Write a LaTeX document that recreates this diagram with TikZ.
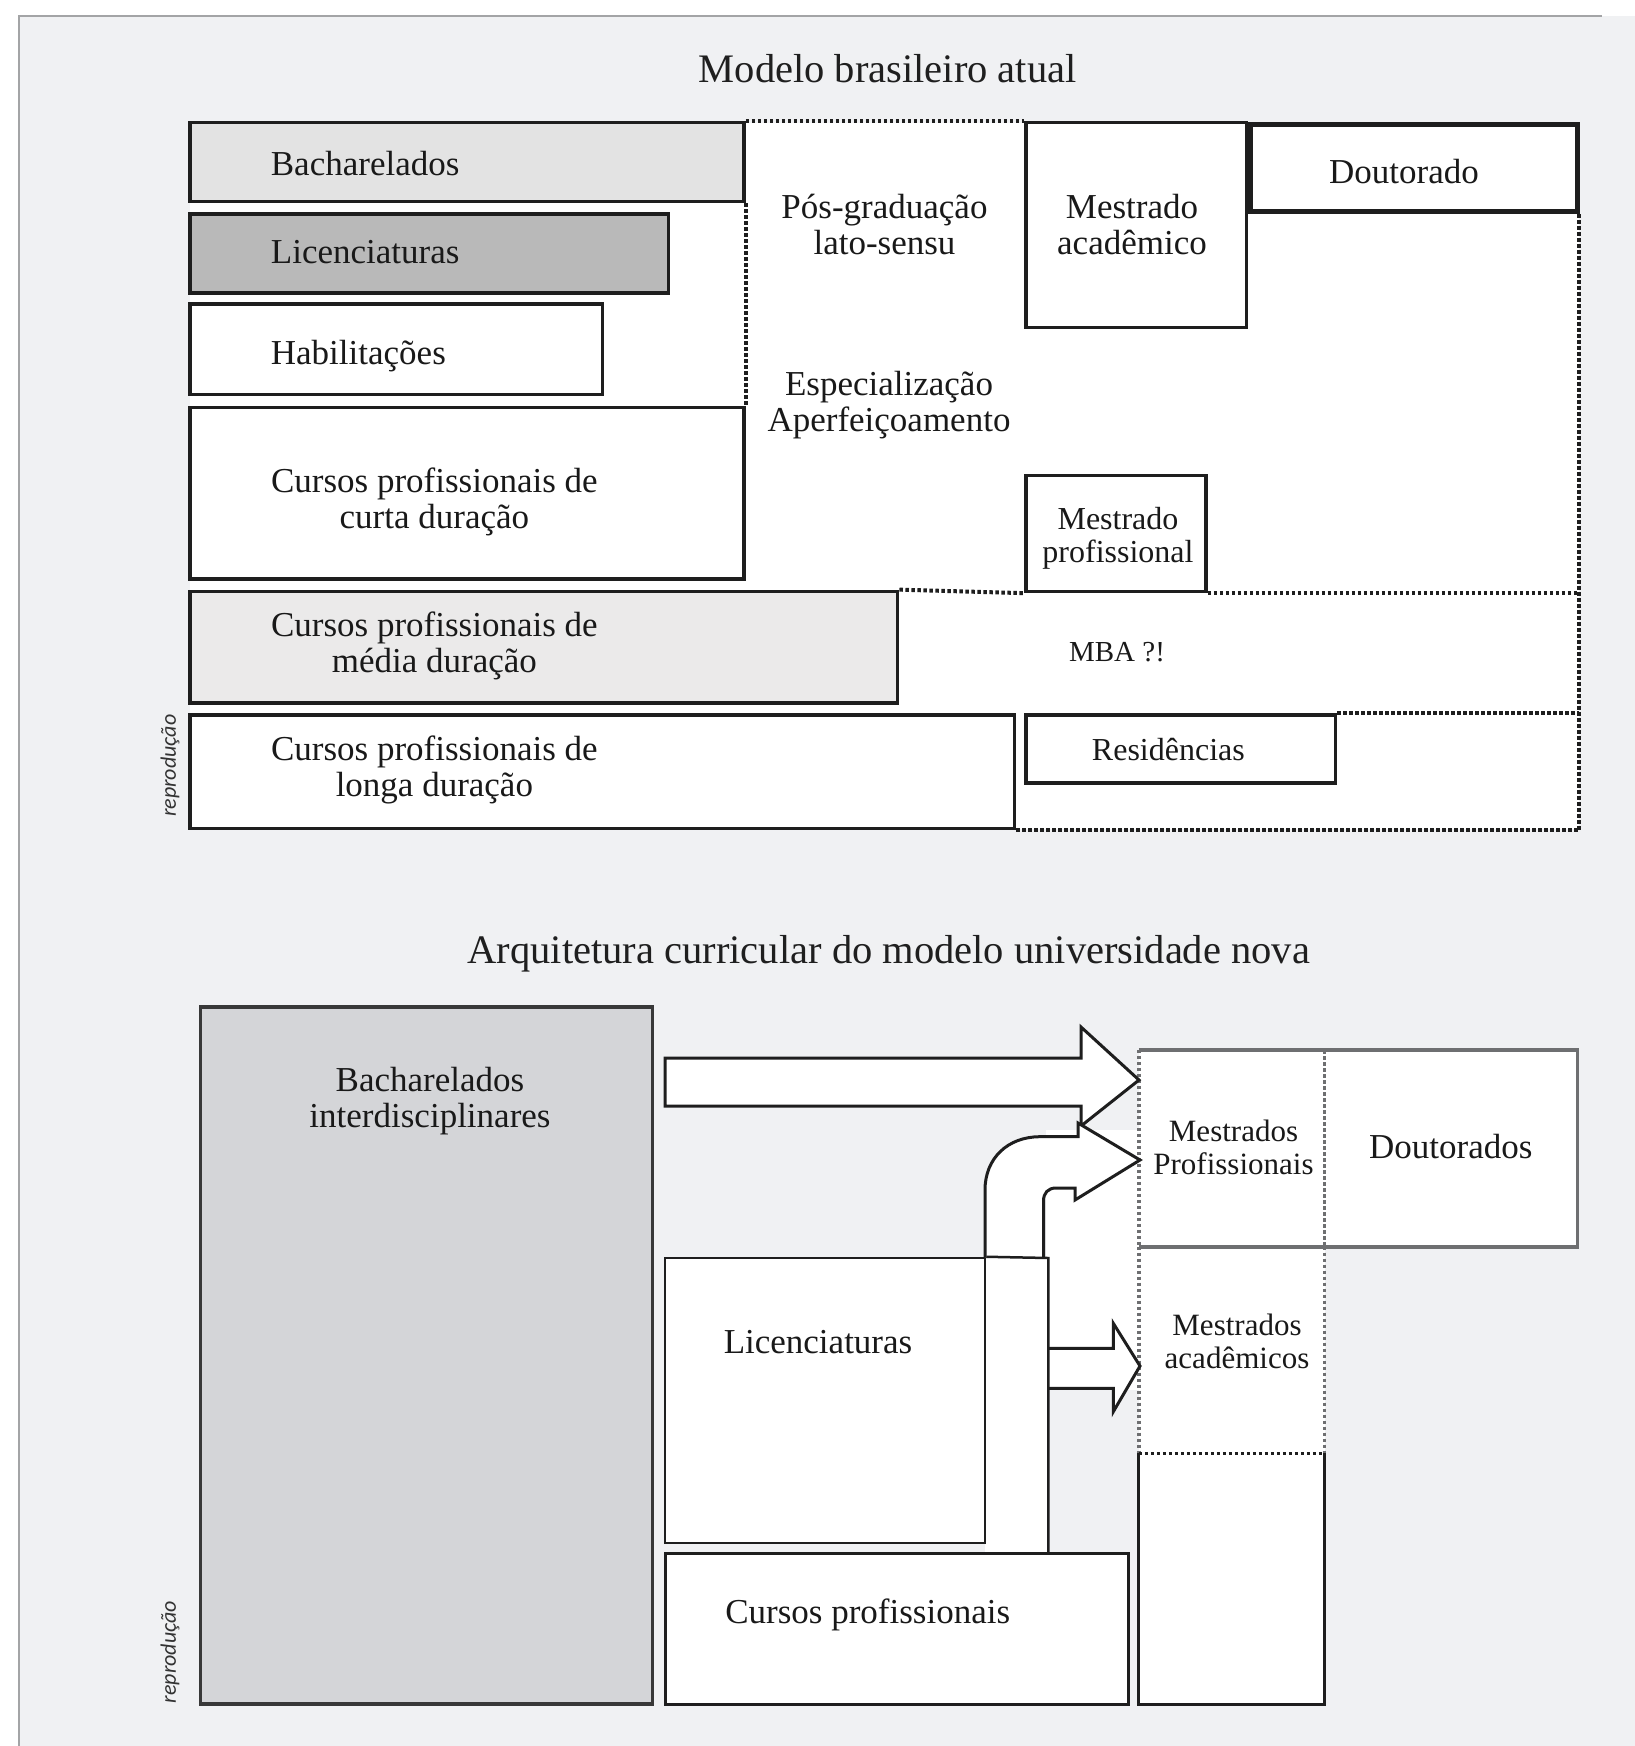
\documentclass[tikz,border=0pt]{standalone}
\usepackage{fontspec}
\setmainfont{Liberation Serif}
\newfontfamily\repfont{Carlito}
\usetikzlibrary{fit}
\definecolor{bgc}{HTML}{F0F1F3}
\definecolor{framec}{HTML}{A3A4A6}
\definecolor{bachfill}{HTML}{E3E3E3}
\definecolor{licfill}{HTML}{B9B9B9}
\definecolor{medfill}{HTML}{EBEAEA}
\definecolor{bifill}{HTML}{D4D5D8}
\definecolor{inkc}{HTML}{1E1E1E}
\definecolor{grayline}{HTML}{6E6F71}
\tikzset{
  ubox/.style={draw=inkc, line width=3.5pt, inner sep=0pt, fill=white},
  lbox/.style={draw=inkc, line width=3pt, inner sep=0pt, fill=white},
  dotl/.style={draw=inkc, line width=4pt, dash pattern=on 3.5pt off 2.5pt},
  gdot/.style={draw=grayline, line width=3.5pt, dash pattern=on 3.5pt off 2.5pt},
  gsolid/.style={draw=grayline, line width=3.5pt},
  lbl/.style={inner sep=0pt, text=black!90, font=\fontsize{35}{36}\selectfont, align=center},
  slbl/.style={lbl, font=\fontsize{32}{33}\selectfont},
  ttl/.style={inner sep=0pt, text=black!88, font=\fontsize{40.5}{42}\selectfont},
  rep/.style={inner sep=0pt, rotate=90, font=\repfont\itshape\fontsize{22}{24}\selectfont, text=black!80},
  blockarrow/.style={draw=inkc, line width=3pt, fill=white, line join=miter},
}
\begin{document}
\begin{tikzpicture}[x=1pt,y=-1pt]
\useasboundingbox (0,0) rectangle (1635,1746);
\fill[white] (0,0) rectangle (1635,1746);
\fill[bgc] (19,16) rectangle (1635,1746);
\draw[framec, line width=2.5pt] (19,1746) -- (19,16) -- (1602,16);

% ================= upper diagram =================
\node[ttl] (title1) at (887.7,69) {Modelo brasileiro atual};
\fill[white] (190,122.5) rectangle (1579.4,828.7);

% boxes
\node[ubox, fill=bachfill, fit={(190,122.5) (744,201.6)}] (bach) {};
\node[ubox, fill=licfill, fit={(190,213.8) (668.3,292.9)}] (lic) {};
\node[ubox, fit={(190,304) (602.6,394.3)}] (hab) {};
\node[ubox, fit={(190,407.6) (744,579.2)}] (curta) {};
\node[ubox, fill=medfill, fit={(190,591.4) (897.7,702.8)}] (media) {};
\node[ubox, fit={(190,715) (1014.7,828.7)}] (longa) {};
\node[ubox, fit={(1025.8,122.5) (1246.3,327.5)}] (macad) {};
\node[ubox, line width=5pt, fit={(1250.5,124) (1577.5,211.6)}] (dout) {};
\node[ubox, fit={(1025.8,475.6) (1206.2,591.4)}] (mprof) {};
\node[ubox, fit={(1025.8,715) (1335.4,783)}] (resid) {};
\coordinate (rx) at (1579.4,122.5);

% dotted outline of the post-graduation area
\draw[dotl] (bach.north east) -- (macad.north west);
\draw[dotl] (bach.south east) -- (curta.north east);
\draw[dotl] (dout.south east -| rx) -- (rx |- longa.south);
\draw[dotl] (media.north east) -- (mprof.south west);
\draw[dotl] (mprof.south east) -- (rx |- mprof.south);
\draw[dotl] (resid.north east) -- (rx |- resid.north);
\draw[dotl] (longa.south east) -- (rx |- longa.south);

% labels
\node[lbl, anchor=west] (tbach) at (270.7,163.7) {Bacharelados};
\node[lbl, anchor=west] (tlic) at (270.7,251.7) {Licenciaturas};
\node[lbl, anchor=west] (thab) at (270.7,356.4) {Habilitações};
\node[lbl] (tcurta) at (434.4,502) {Cursos profissionais de\\curta duração};
\node[lbl] (tmedia) at (434.4,645.5) {Cursos profissionais de\\média duração};
\node[lbl] (tlonga) at (434.4,769.5) {Cursos profissionais de\\longa duração};
\node[lbl] (tpos) at (884.5,224) {Pós-graduação\\lato-sensu};
\node[lbl] (tesp) at (889,405) {Especialização\\Aperfeiçoamento};
\node[lbl] (tmacad) at (1132,224.5) {Mestrado\\acadêmico};
\node[lbl] (tdout) at (1404,171.5) {Doutorado};
\node[slbl] (tmprof) at (1118,538) {Mestrado\\profissional};
\node[lbl, font=\fontsize{29}{30}\selectfont] (tmba) at (1117,651.6) {MBA ?!};
\node[slbl] (tresid) at (1168.4,749.6) {Residências};
\node[rep] (rep1) at (170,765.7) {reprodução};

% ================= lower diagram =================
\node[ttl] (title2) at (888.8,954) {Arquitetura curricular do modelo universidade nova};

\node[ubox, draw=black!78, fill=bifill, fit={(200.5,1006.9) (652.7,1704.1)}] (bi) {};
\node[lbl] (tbi) at (430,1101) {Bacharelados\\interdisciplinares};

% white areas round the arrows
\fill[white] (1046,1130) rectangle (1139,1390);
\fill[white] (985,1258) rectangle (1048.3,1553);

\node[lbox, line width=2.5pt, fit={(665,1258) (985,1543)}] (lic2) {};
\node[lbl] (tlic2) at (818,1342) {Licenciaturas};
\node[lbox, fit={(665,1553.3) (1128.3,1704)}] (cprof) {};
\node[lbl] (tcprof) at (867.7,1615) {Cursos profissionais};

% right column
\node[inner sep=0pt, fill=white, fit={(1139,1050) (1577.5,1246.7)}] (mp) {};
\node[inner sep=0pt, fill=white, fit={(1139,1246.7) (1324.5,1453.5)}] (mac) {};
\node[inner sep=0pt, fill=white, fit={(1139,1453.5) (1324.5,1704)}] (mlow) {};
\coordinate (divtop) at (1324.5,1050);
\draw[gsolid] (mp.north west) -- (mp.north east) -- (mp.south east) -- (mp.south west);
\draw[gdot] (mp.north west) -- (mp.south west);
\draw[gdot] (divtop) -- (divtop |- mp.south);
\draw[gdot] (mac.north west) -- (mac.south west);
\draw[gdot] (mac.north east) -- (mac.south east);
\draw[dotl, line width=3.5pt] (mlow.north west) -- (mlow.north east);
\draw[inkc, line width=3pt] (mlow.north west) -- (mlow.south west) -- (mlow.south east) -- (mlow.north east);
\node[lbl, font=\fontsize{31}{33}\selectfont] (tmp) at (1233.5,1147) {Mestrados\\Profissionais};
\node[lbl] (tdouts) at (1450.8,1147) {Doutorados};
\node[lbl, font=\fontsize{31}{33}\selectfont] (tmac) at (1237,1341) {Mestrados\\acadêmicos};

% block arrows
\draw[blockarrow] (665,1058) -- (1081,1058) -- (1081,1027) -- (1139,1080)
  -- (1081,1126) -- (1081,1106) -- (665,1106) -- cycle;
\draw[blockarrow] (985,1257) -- (985,1190)
  .. controls (985,1158) and (1008,1136.7) .. (1040,1136.7)
  -- (1078,1136.7) -- (1078,1123) -- (1140,1160) -- (1075,1200) -- (1075,1188)
  -- (1056,1188) .. controls (1048,1188) and (1043.5,1193) .. (1043.5,1201)
  -- (1043.5,1257);
\draw[blockarrow] (1048.3,1348.3) -- (1113.3,1348.3) -- (1113.3,1323.3) -- (1140,1366)
  -- (1113.3,1411.7) -- (1113.3,1388.3) -- (1048.3,1388.3);
\draw[inkc, line width=2.5pt] (lic2.north east) -- (1048.3,1258) -- (1048.3,1553.3);

\node[rep] (rep2) at (170,1652) {reprodução};
\end{tikzpicture}
\end{document}
